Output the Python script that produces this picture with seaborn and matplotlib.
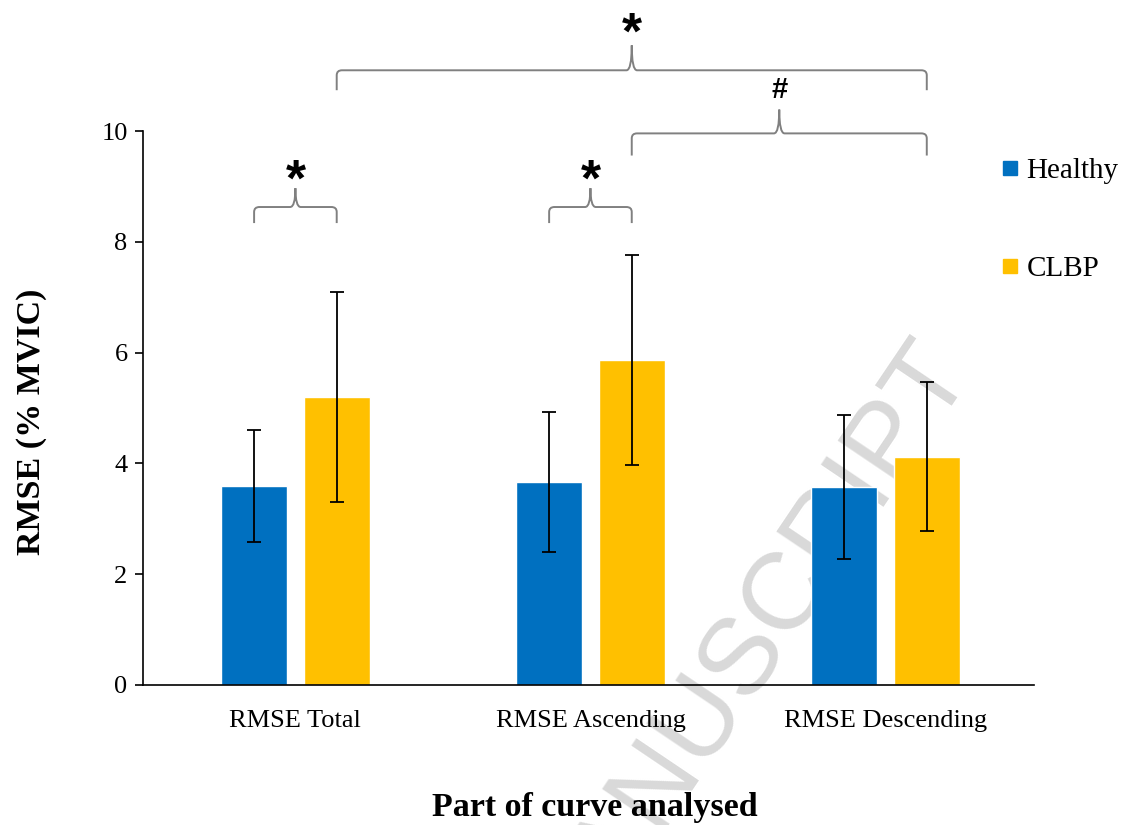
import numpy as np
import pandas as pd
import matplotlib
matplotlib.use("Agg")
import matplotlib.pyplot as plt
from matplotlib.path import Path
from matplotlib.patches import PathPatch
from matplotlib.lines import Line2D
import seaborn as sns

# data (means and SDs, % MVIC)
parts = ["RMSE Total", "RMSE Ascending", "RMSE Descending"]
groups = ["Healthy", "CLBP"]
healthy_mean = [3.59, 3.66, 3.57]
healthy_sd = [1.01, 1.26, 1.30]
clbp_mean = [5.20, 5.87, 4.12]
clbp_sd = [1.90, 1.90, 1.35]

# significance brackets: (part, group) -> (part, group), symbol
brackets = [
    (("RMSE Total", "Healthy"), ("RMSE Total", "CLBP"), "*"),
    (("RMSE Ascending", "Healthy"), ("RMSE Ascending", "CLBP"), "*"),
    (("RMSE Total", "CLBP"), ("RMSE Descending", "CLBP"), "*"),
    (("RMSE Ascending", "CLBP"), ("RMSE Descending", "CLBP"), "#"),
]
# bracket line height, end drop, cusp height, symbol baseline (y units)
bracket_levels = [8.63, 8.63, 11.10, 9.96]
bracket_drops = [0.29, 0.29, 0.36, 0.40]
bracket_peaks = [0.34, 0.34, 0.45, 0.43]
symbol_y = [8.84, 8.84, 11.50, 10.60]

colors = {"Healthy": "#0070C0", "CLBP": "#FFC000"}

df = pd.DataFrame({
    "part": parts * 2,
    "group": ["Healthy"] * 3 + ["CLBP"] * 3,
    "rmse": healthy_mean + clbp_mean,
    "sd": healthy_sd + clbp_sd,
})

sns.set_style("white")
plt.rcParams["font.family"] = ["Liberation Serif", "DejaVu Serif"]
plt.rcParams["text.color"] = "black"
plt.rcParams["axes.labelcolor"] = "black"
plt.rcParams["xtick.color"] = "black"
plt.rcParams["ytick.color"] = "black"

fig = plt.figure(figsize=(11.25, 8.25), dpi=100)
ax = fig.add_axes([0.127, 0.170, 0.792, 0.671])
ax.set_zorder(1)
ax.patch.set_alpha(0)

# watermark behind the axes
fig.text(0.866, 0.547, "ACCEPTED MANUSCRIPT", fontsize=79, color="#d9d9d9",
         family=["Liberation Sans", "DejaVu Sans"], rotation=56,
         rotation_mode="anchor", ha="right", va="baseline", zorder=0)

sns.barplot(data=df, x="part", y="rmse", hue="group", order=parts,
            hue_order=groups, palette=colors, width=0.56, gap=0.2,
            errorbar=None, saturation=1, ax=ax, zorder=2)

# error bars (SD) at the bar centres
bar_pos = {}
for container, g in zip(ax.containers, groups):
    sds = df[df.group == g].set_index("part").loc[parts, "sd"].values
    for patch, p, s in zip(container, parts, sds):
        xc = patch.get_x() + patch.get_width() / 2
        h = patch.get_height()
        bar_pos[(p, g)] = xc
        ax.errorbar(xc, h, yerr=s, color="black", lw=1.3, capsize=5,
                    capthick=1.3, zorder=3)

ax.set_ylim(0, 10)
ax.set_xlim(-0.517, 2.503)
ax.set_yticks([0, 2, 4, 6, 8, 10])
ax.tick_params(axis="y", direction="out", length=6, width=1.2,
               labelsize=19, left=True, pad=5)
ax.tick_params(axis="x", length=0, labelsize=19, pad=18)
sns.despine(ax=ax)
for s in ["left", "bottom"]:
    ax.spines[s].set_color("black")
    ax.spines[s].set_linewidth(1.2)

ax.set_xlabel("Part of curve analysed", fontsize=24.5, fontweight="bold")
ax.xaxis.set_label_coords(0.507, -0.193)
ax.set_ylabel("RMSE (% MVIC)", fontsize=24.5, fontweight="bold")
ax.yaxis.set_label_coords(-0.108, 0.475)


# curly brace between two x positions
def brace(x0, x1, y, drop, peak, rx=0.018, ry=0.09):
    xm = (x0 + x1) / 2
    verts = [(x0, y - drop), (x0, y - ry), (x0, y), (x0 + rx, y),
             (xm - rx, y), (xm, y), (xm, y + peak),
             (xm, y + peak), (xm, y), (xm + rx, y),
             (x1 - rx, y), (x1, y), (x1, y - ry), (x1, y - drop)]
    codes = [Path.MOVETO, Path.LINETO, Path.CURVE3, Path.CURVE3,
             Path.LINETO, Path.CURVE3, Path.CURVE3,
             Path.MOVETO, Path.CURVE3, Path.CURVE3,
             Path.LINETO, Path.CURVE3, Path.CURVE3, Path.LINETO]
    pp = PathPatch(Path(verts, codes), fill=False, edgecolor="#808080",
                   lw=1.4, clip_on=False, zorder=4)
    ax.add_patch(pp)
    return xm


for (a, b, sym), lev, dr, pk, sy in zip(brackets, bracket_levels,
                                        bracket_drops, bracket_peaks,
                                        symbol_y):
    xm = brace(bar_pos[a], bar_pos[b], lev, dr, pk)
    size = 37 if sym == "*" else 21
    ax.text(xm, sy, sym, ha="center", va="baseline", fontsize=size,
            fontweight="bold", family=["Liberation Sans"], clip_on=False)

# legend: square markers to the right of the plot
ax.legend_.remove()
handles = [Line2D([], [], marker="s", ls="", markersize=10.5,
                  color=colors[g]) for g in groups]
fig.legend(handles, groups, loc="upper left", bbox_to_anchor=(0.8876, 0.8085),
           frameon=False, fontsize=21, handlelength=0.8, handletextpad=0.15,
           labelspacing=2.44, borderpad=0, borderaxespad=0)

fig.savefig("out.png", dpi=100)
